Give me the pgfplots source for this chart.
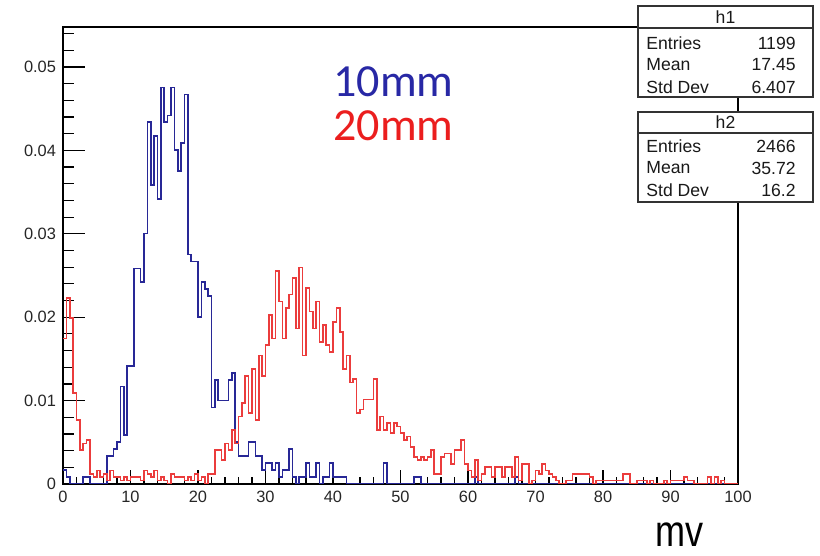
\documentclass[border=0pt]{standalone}
\usepackage{pgfplots}
\pgfplotsset{compat=1.18}
\usepackage{pgfplotstable}
\usepackage{fontspec}
\setmainfont{Liberation Sans}
\newfontfamily\carlito{Carlito}
\definecolor{hblue}{RGB}{40,40,150}
\definecolor{hred}{RGB}{235,60,60}
\definecolor{tblue}{RGB}{40,40,165}
\definecolor{tred}{RGB}{235,30,30}
% x = bin low edge (mv), b = counts h1 (1199 entries), r = counts h2 (2466 entries)
\pgfplotstableread[row sep=\\]{
x b r\\
0 2 43\\ 0.5 1 55\\ 1 0 49\\ 1.5 0 27\\ 2 0 19\\
2.5 0 10\\ 3 1 12\\ 3.5 1 13\\ 4 0 3\\ 4.5 0 2\\
5 0 4\\ 5.5 0 2\\ 6 0 3\\ 6.5 4 1\\ 7 4 4\\
7.5 5 2\\ 8 6 2\\ 8.5 14 1\\ 9 7 2\\ 9.5 17 1\\
10 17 2\\ 10.5 31 2\\ 11 31 2\\ 11.5 29 1\\ 12 36 4\\
12.5 52 3\\ 13 43 2\\ 13.5 50 4\\ 14 41 1\\ 14.5 57 2\\
15 52 1\\ 15.5 53 0\\ 16 57 3\\ 16.5 48 2\\ 17 45 2\\
17.5 49 2\\ 18 56 1\\ 18.5 33 2\\ 19 32 1\\ 19.5 32 3\\
20 24 1\\ 20.5 29 2\\ 21 28 0\\ 21.5 27 3\\ 22 11 3\\
22.5 15 10\\ 23 12 10\\ 23.5 12 7\\ 24 12 12\\ 24.5 15 10\\
25 16 16\\ 25.5 6 12\\ 26 4 20\\ 26.5 4 24\\ 27 4 32\\
27.5 6 21\\ 28 6 34\\ 28.5 4 19\\ 29 4 38\\ 29.5 2 32\\
30 3 41\\ 30.5 3 50\\ 31 2 43\\ 31.5 3 63\\ 32 1 54\\
32.5 2 43\\ 33 2 52\\ 33.5 5 56\\ 34 1 61\\ 34.5 0 46\\
35 1 64\\ 35.5 1 38\\ 36 3 58\\ 36.5 1 51\\ 37 1 46\\
37.5 3 54\\ 38 0 42\\ 38.5 1 47\\ 39 1 41\\ 39.5 3 39\\
40 1 48\\ 40.5 1 52\\ 41 1 45\\ 41.5 1 34\\ 42 0 38\\
42.5 0 30\\ 43 0 31\\ 43.5 0 21\\ 44 0 22\\ 44.5 0 25\\
45 0 25\\ 45.5 0 25\\ 46 0 31\\ 46.5 0 16\\ 47 0 20\\
47.5 3 16\\ 48 0 18\\ 48.5 0 15\\ 49 0 18\\ 49.5 0 17\\
50 0 15\\ 50.5 0 13\\ 51 0 14\\ 51.5 0 11\\ 52 1 8\\
52.5 1 7\\ 53 0 8\\ 53.5 0 7\\ 54 0 8\\ 54.5 0 10\\
55 0 3\\ 55.5 0 3\\ 56 0 8\\ 56.5 0 9\\ 57 0 9\\
57.5 0 6\\ 58 0 10\\ 58.5 0 10\\ 59 0 13\\ 59.5 0 6\\
60 0 4\\ 60.5 0 2\\ 61 1 7\\ 61.5 0 1\\ 62 0 3\\
62.5 0 5\\ 63 0 5\\ 63.5 0 2\\ 64 0 5\\ 64.5 0 5\\
65 0 2\\ 65.5 0 5\\ 66 0 5\\ 66.5 0 2\\ 67 1 8\\
67.5 0 1\\ 68 0 6\\ 68.5 0 6\\ 69 0 0\\ 69.5 0 1\\
70 0 4\\ 70.5 0 3\\ 71 0 6\\ 71.5 0 4\\ 72 0 3\\
72.5 0 2\\ 73 0 1\\ 73.5 0 0\\ 74 0 0\\ 74.5 0 1\\
75 0 1\\ 75.5 0 3\\ 76 0 3\\ 76.5 0 3\\ 77 0 3\\
77.5 0 3\\ 78 0 2\\ 78.5 0 0\\ 79 0 1\\ 79.5 0 1\\
80 0 1\\ 80.5 0 1\\ 81 0 1\\ 81.5 0 1\\ 82 0 1\\
82.5 0 1\\ 83 0 3\\ 83.5 0 3\\ 84 0 0\\ 84.5 0 0\\
85 0 1\\ 85.5 0 1\\ 86 0 1\\ 86.5 0 0\\ 87 0 1\\
87.5 0 0\\ 88 0 0\\ 88.5 0 0\\ 89 0 1\\ 89.5 0 0\\
90 0 1\\ 90.5 0 1\\ 91 0 1\\ 91.5 0 1\\ 92 0 2\\
92.5 0 1\\ 93 0 1\\ 93.5 0 0\\ 94 0 0\\ 94.5 0 0\\
95 0 0\\ 95.5 0 2\\ 96 0 0\\ 96.5 0 2\\ 97 0 0\\
97.5 0 1\\ 98 0 0\\ 98.5 0 0\\ 99 0 0\\ 99.5 0 0\\
100 0 0\\
}\histdata
\begin{document}
\begin{tikzpicture}
\useasboundingbox (0,0) rectangle (410pt,278pt);
\begin{axis}[
  at={(31.5pt,36pt)}, anchor=south west,
  scale only axis, width=337.5pt, height=228.5pt,
  xmin=0, xmax=100, ymin=0, ymax=0.0548,
  axis line style={black, line width=0.8pt},
  tick pos=left, tick align=inside,
  xtick={0,10,...,100},
  minor xtick={2,4,6,8,12,14,16,18,22,24,26,28,32,34,36,38,42,44,46,48,52,54,56,58,62,64,66,68,72,74,76,78,82,84,86,88,92,94,96,98},
  ytick={0,0.01,0.02,0.03,0.04,0.05},
  minor ytick={0.002,0.004,0.006,0.008,0.012,0.014,0.016,0.018,0.022,0.024,0.026,0.028,0.032,0.034,0.036,0.038,0.042,0.044,0.046,0.048,0.052,0.054},
  major tick length=11pt, minor tick length=5.5pt,
  xtick style={black, line width=0.6pt, /pgfplots/major tick length=7pt, /pgfplots/minor tick length=3.5pt},
  ytick style={black, line width=0.6pt},
  scaled y ticks=false,
  yticklabel style={/pgf/number format/fixed, /pgf/number format/precision=2},
  /pgf/number format/assume math mode=true,
  tick label style={font=\fontsize{8.2}{9}\selectfont, text=black!85},
  clip=true,
]
\addplot[hblue, line width=0.85pt, const plot mark left, mark=none]
  table[x=x, y expr=\thisrow{b}/1199] {\histdata};
\addplot[hred, line width=0.85pt, const plot mark left, mark=none]
  table[x=x, y expr=\thisrow{r}/2466] {\histdata};
\end{axis}
% labels
\node[anchor=base west, inner sep=0pt, text=tblue] at (166.5pt,229.5pt) {\carlito\fontsize{23}{27}\selectfont 10mm};
\node[anchor=base west, inner sep=0pt, text=tred] at (166.5pt,207.5pt) {\carlito\fontsize{23}{27}\selectfont 20mm};
\node[anchor=base west, inner sep=0pt] at (327.5pt,4.5pt) {\fontsize{22}{26}\selectfont\scalebox{0.82}[1]{mv}};
% stat box h1
\draw[line width=0.6pt, draw=black!80, fill=white] (319pt,229.5pt) rectangle (406.5pt,275pt);
\draw[line width=0.6pt, draw=black!80] (319pt,264pt) -- (406.5pt,264pt);
\begin{scope}[every node/.style={inner sep=0pt, font=\fontsize{8.8}{10}\selectfont, text=black!90}]
\node at (362.75pt,269.5pt) {h1};
\node[anchor=west] at (323pt,256.5pt) {Entries};
\node[anchor=west] at (323pt,245.5pt) {Mean};
\node[anchor=west] at (323pt,234.5pt) {Std Dev};
\node[anchor=east] at (398pt,256.5pt) {1199};
\node[anchor=east] at (398pt,245.5pt) {17.45};
\node[anchor=east] at (398pt,234.5pt) {6.407};
\end{scope}
% stat box h2
\draw[line width=0.6pt, draw=black!80, fill=white] (319pt,177pt) rectangle (406.5pt,222pt);
\draw[line width=0.6pt, draw=black!80] (319pt,211.5pt) -- (406.5pt,211.5pt);
\begin{scope}[every node/.style={inner sep=0pt, font=\fontsize{8.8}{10}\selectfont, text=black!90}]
\node at (362.75pt,216.75pt) {h2};
\node[anchor=west] at (323pt,205pt) {Entries};
\node[anchor=west] at (323pt,194pt) {Mean};
\node[anchor=west] at (323pt,183pt) {Std Dev};
\node[anchor=east] at (398pt,205pt) {2466};
\node[anchor=east] at (398pt,194pt) {35.72};
\node[anchor=east] at (398pt,183pt) {16.2};
\end{scope}
\end{tikzpicture}
\end{document}
